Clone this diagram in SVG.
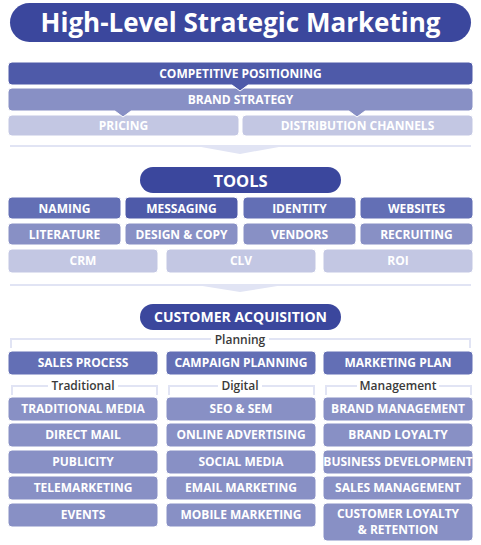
<svg xmlns="http://www.w3.org/2000/svg" width="481" height="545" viewBox="0 0 481 545">
<style>
.t{font-family:"Open Sans","Liberation Sans",sans-serif;font-weight:bold;fill:#fff;text-anchor:middle}
.n{font-size:12px}
.c1{fill:#4e5aa9}
.c2{fill:#636fb5}
.c3{fill:#8890c5}
.c4{fill:#c3c7e3}
.b{stroke:#fff;stroke-width:1}
.sep{fill:none;stroke:#e1e4f4;stroke-width:2}
.lab{font-family:"Open Sans","Liberation Sans",sans-serif;font-weight:600;font-size:12px;fill:#3a3a3a;text-anchor:middle}
</style>
<rect width="481" height="545" fill="#fff"/>
<g id="title">
<rect x="10" y="3" width="461" height="39" rx="19.5" fill="#3b479d"/>
<text class="t" x="240.5" y="31.5" font-size="26">High-Level Strategic Marketing</text>
</g>
<g id="pricing"><rect class="c4 b" x="8" y="115" width="231" height="21" rx="4"/><text class="t n" x="123.5" y="130">PRICING</text></g>
<g id="distribution"><rect class="c4 b" x="242" y="115" width="231" height="21" rx="4"/><text class="t n" x="357.5" y="130">DISTRIBUTION CHANNELS</text></g>
<g id="brand-strategy"><path class="c3 b" d="M12,88 H469 Q473,88 473,92 V107 Q473,111 469,111 H365 L357,117 L349,111 H131 L123,117 L115,111 H12 Q8,111 8,107 V92 Q8,88 12,88 Z"/><text class="t n" x="240.5" y="104">BRAND STRATEGY</text></g>
<g id="competitive-positioning"><path class="c1 b" d="M12,62 H469 Q473,62 473,66 V81 Q473,85 469,85 H248 L240,91 L232,85 H12 Q8,85 8,81 V66 Q8,62 12,62 Z"/><text class="t n" x="240.5" y="78">COMPETITIVE POSITIONING</text></g>
<g id="connectors">
<line class="sep" x1="10" y1="146" x2="471" y2="146"/>
<polygon points="190,145 290,145 240,154" fill="#e1e4f4"/>
<line class="sep" x1="10" y1="285" x2="471" y2="285"/>
<polygon points="190,284 290,284 240,292" fill="#e1e4f4"/>
<path class="sep" d="M11,348 V339 H211 M269,339 H470 V348"/>
<path class="sep" d="M12,395 V386 H48 M118,386 H157 V395"/>
<path class="sep" d="M169,395 V386 H218 M262,386 H314 V395"/>
<path class="sep" d="M326,395 V386 H357 M439,386 H471 V395"/>
</g>
<g id="tools"><rect x="140" y="167" width="201" height="26" rx="13" fill="#3b479d"/><text class="t" x="240.5" y="186.5" font-size="16.5">TOOLS</text></g>
<g id="naming"><rect class="c2 b" x="8" y="197" width="113" height="22" rx="4"/><text class="t n" x="64.5" y="212.5">NAMING</text></g>
<g id="messaging"><rect class="c1 b" x="125" y="197" width="113" height="22" rx="4"/><text class="t n" x="181.5" y="212.5">MESSAGING</text></g>
<g id="identity"><rect class="c2 b" x="243" y="197" width="113" height="22" rx="4"/><text class="t n" x="299.5" y="212.5">IDENTITY</text></g>
<g id="websites"><rect class="c2 b" x="360" y="197" width="113" height="22" rx="4"/><text class="t n" x="416.5" y="212.5">WEBSITES</text></g>
<g id="literature"><rect class="c3 b" x="8" y="223" width="113" height="22" rx="4"/><text class="t n" x="64.5" y="238.5">LITERATURE</text></g>
<g id="design-copy"><rect class="c3 b" x="125" y="223" width="113" height="22" rx="4"/><text class="t n" x="181.5" y="238.5">DESIGN &amp; COPY</text></g>
<g id="vendors"><rect class="c3 b" x="243" y="223" width="113" height="22" rx="4"/><text class="t n" x="299.5" y="238.5">VENDORS</text></g>
<g id="recruiting"><rect class="c3 b" x="360" y="223" width="113" height="22" rx="4"/><text class="t n" x="416.5" y="238.5">RECRUITING</text></g>
<g id="crm"><rect class="c4 b" x="8" y="249" width="150" height="24" rx="4"/><text class="t n" x="83" y="265">CRM</text></g>
<g id="clv"><rect class="c4 b" x="166" y="249" width="150" height="24" rx="4"/><text class="t n" x="241" y="265">CLV</text></g>
<g id="roi"><rect class="c4 b" x="323" y="249" width="150" height="24" rx="4"/><text class="t n" x="398" y="265">ROI</text></g>
<g id="customer-acquisition"><rect x="140" y="304" width="201" height="26" rx="13" fill="#3b479d"/><text class="t" x="240.5" y="322" font-size="14">CUSTOMER ACQUISITION</text></g>
<g id="planning-label"><text class="lab" x="240" y="344">Planning</text></g>
<g id="sales-process"><rect class="c2 b" x="8" y="351" width="150" height="24" rx="4"/><text class="t n" x="83" y="367">SALES PROCESS</text></g>
<g id="campaign-planning"><rect class="c2 b" x="166" y="351" width="150" height="24" rx="4"/><text class="t n" x="241" y="367">CAMPAIGN PLANNING</text></g>
<g id="marketing-plan"><rect class="c2 b" x="323" y="351" width="150" height="24" rx="4"/><text class="t n" x="398" y="367">MARKETING PLAN</text></g>
<g id="traditional-label"><text class="lab" x="83" y="390">Traditional</text></g>
<g id="digital-label"><text class="lab" x="240" y="390">Digital</text></g>
<g id="management-label"><text class="lab" x="398" y="390">Management</text></g>
<g id="traditional-media"><rect class="c3 b" x="8" y="397" width="150" height="24" rx="4"/><text class="t n" x="83" y="413">TRADITIONAL MEDIA</text></g>
<g id="direct-mail"><rect class="c3 b" x="8" y="423" width="150" height="24" rx="4"/><text class="t n" x="83" y="439">DIRECT MAIL</text></g>
<g id="publicity"><rect class="c3 b" x="8" y="450" width="150" height="24" rx="4"/><text class="t n" x="83" y="466">PUBLICITY</text></g>
<g id="telemarketing"><rect class="c3 b" x="8" y="476" width="150" height="24" rx="4"/><text class="t n" x="83" y="492">TELEMARKETING</text></g>
<g id="events"><rect class="c3 b" x="8" y="503" width="150" height="24" rx="4"/><text class="t n" x="83" y="519">EVENTS</text></g>
<g id="seo-sem"><rect class="c3 b" x="166" y="397" width="150" height="24" rx="4"/><text class="t n" x="241" y="413">SEO &amp; SEM</text></g>
<g id="online-advertising"><rect class="c3 b" x="166" y="423" width="150" height="24" rx="4"/><text class="t n" x="241" y="439">ONLINE ADVERTISING</text></g>
<g id="social-media"><rect class="c3 b" x="166" y="450" width="150" height="24" rx="4"/><text class="t n" x="241" y="466">SOCIAL MEDIA</text></g>
<g id="email-marketing"><rect class="c3 b" x="166" y="476" width="150" height="24" rx="4"/><text class="t n" x="241" y="492">EMAIL MARKETING</text></g>
<g id="mobile-marketing"><rect class="c3 b" x="166" y="503" width="150" height="24" rx="4"/><text class="t n" x="241" y="519">MOBILE MARKETING</text></g>
<g id="brand-management"><rect class="c3 b" x="323" y="397" width="150" height="24" rx="4"/><text class="t n" x="398" y="413">BRAND MANAGEMENT</text></g>
<g id="brand-loyalty"><rect class="c3 b" x="323" y="423" width="150" height="24" rx="4"/><text class="t n" x="398" y="439">BRAND LOYALTY</text></g>
<g id="business-development"><rect class="c3 b" x="323" y="450" width="150" height="24" rx="4"/><text class="t n" x="398" y="466">BUSINESS DEVELOPMENT</text></g>
<g id="sales-management"><rect class="c3 b" x="323" y="476" width="150" height="24" rx="4"/><text class="t n" x="398" y="492">SALES MANAGEMENT</text></g>
<g id="customer-loyalty"><rect class="c3 b" x="323" y="503" width="150" height="38" rx="4"/><text class="t n" x="398" y="518">CUSTOMER LOYALTY</text><text class="t n" x="398" y="534">&amp; RETENTION</text></g>
</svg>
